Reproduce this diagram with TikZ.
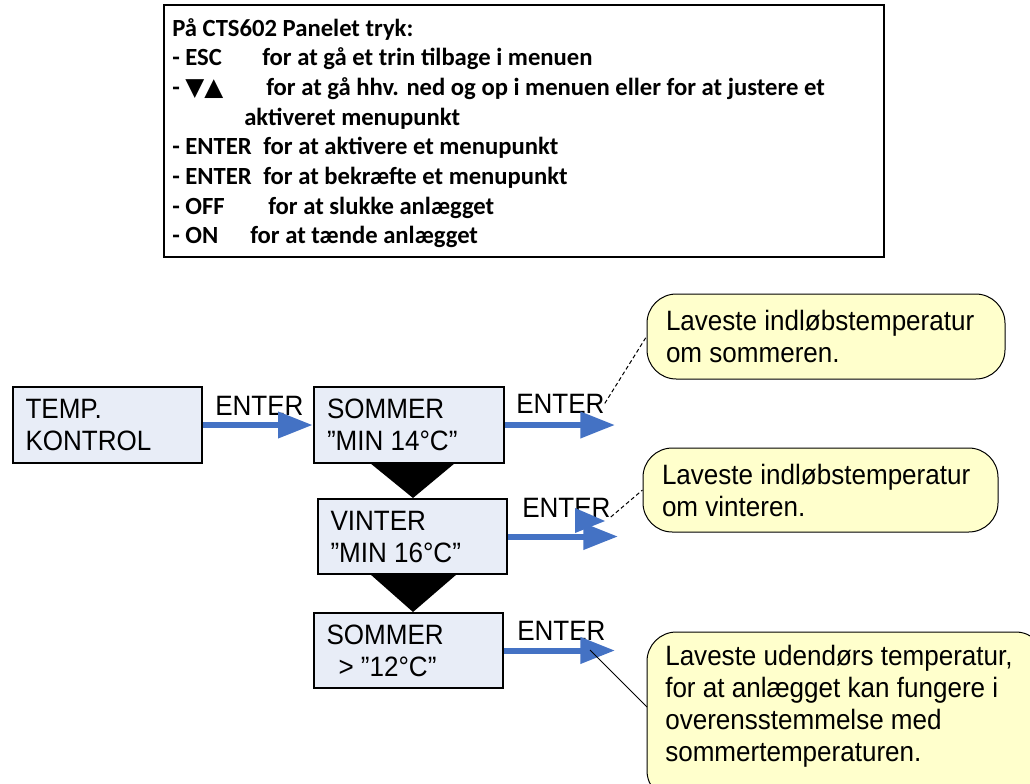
\documentclass[tikz,border=0pt]{standalone}
\usepackage{fontspec}
\usetikzlibrary{arrows.meta}
\newfontfamily\arialf{Liberation Sans}[FakeStretch=0.93]
\newfontfamily\calibf{Carlito}
\newfontfamily\dejavuf{DejaVu Sans}
\definecolor{boxfill}{HTML}{E8EDF7}
\definecolor{callfill}{HTML}{FFFFCC}
\definecolor{arrowblue}{HTML}{4472C4}
\begin{document}
\begin{tikzpicture}[x=0.75pt,y=-0.75pt,
  menubox/.style={draw=black, line width=2pt, fill=boxfill, inner sep=0pt,
    minimum width=141.75pt, minimum height=57pt, text width=123pt, align=flush left,
    font=\arialf\fontsize{21}{24}\selectfont},
  callout/.style={draw=black, line width=0.75pt, fill=callfill, rounded corners=22pt,
    inner sep=0pt, align=flush left, font=\arialf\fontsize{21}{24}\selectfont},
  lbl/.style={anchor=base west, inner sep=0pt, font=\arialf\fontsize{21}{24}\selectfont},
  paneltxt/.style={anchor=base west, inner sep=0pt, font=\calibf\bfseries\fontsize{18.5}{22}\selectfont},
  flow/.style={draw=arrowblue, line width=4.5pt, -{Triangle[length=26pt,width=19pt]}},
  dashln/.style={draw=black, line width=0.75pt, dash pattern=on 3pt off 2pt},
  solidln/.style={draw=black, line width=0.75pt}
]
\useasboundingbox (0,0) rectangle (1030,783);
\clip (0,0) rectangle (1030,783);

% top panel
\node[draw=black, line width=1.5pt, minimum width=540pt, minimum height=189pt, inner sep=0pt] (panel) at (524,131) {};
\node[paneltxt] (p0) at (172,36) {På CTS602 Panelet tryk:};
\node[paneltxt] (p1a) at (172,65.7) {- ESC};
\node[paneltxt] (p1b) at (262,65.7) {for at gå et trin tilbage i menuen};
\node[paneltxt] (p2a) at (172,95.4) {- {\dejavuf ▼▲}};
\node[paneltxt] (p2b) at (266,95.4) {for at gå hhv. ned og op i menuen eller for at justere et};
\node[paneltxt] (p3) at (244,125.1) {aktiveret menupunkt};
\node[paneltxt] (p4a) at (172,154.8) {- ENTER};
\node[paneltxt] (p4b) at (263,154.8) {for at aktivere et menupunkt};
\node[paneltxt] (p5a) at (172,184.5) {- ENTER};
\node[paneltxt] (p5b) at (263,184.5) {for at bekræfte et menupunkt};
\node[paneltxt] (p6a) at (172,214.2) {- OFF};
\node[paneltxt] (p6b) at (268,214.2) {for at slukke anlægget};
\node[paneltxt] (p7a) at (172,243.9) {- ON};
\node[paneltxt] (p7b) at (250,243.9) {for at tænde anlægget};

% menu boxes
\node[menubox] (b1) at (107.5,425) {TEMP.\\KONTROL};
\node[menubox, minimum width=142.5pt] (b2) at (409,425) {SOMMER\\”MIN 14°C”};
\node[menubox, minimum height=56.25pt] (b3) at (412.5,536.5) {VINTER\\”MIN 16°C”};
\node[menubox, minimum height=56.25pt] (b4) at (408.5,650.5) {SOMMER\\\hspace*{9pt}> ”12°C”};

% black down triangles
\fill[black] (370,463) -- (455,463) -- (413,498) -- cycle;
\fill[black] (370,574) -- (457,574) -- (413,612) -- cycle;

% ENTER labels
\node[lbl] (e1) at (215,415) {ENTER};
\node[lbl] (e2) at (516,413) {ENTER};
\node[lbl] (e3) at (522,517) {ENTER};
\node[lbl] (e4) at (517,640) {ENTER};

% arrows
\coordinate (t2) at (615,425);
\coordinate (t3) at (618,536.5);
\coordinate (t4) at (615,650.5);
\draw[flow] (b1.east) -- (b2.west);
\draw[flow] (b2.east) -- (t2);
\draw[flow] (b3.east) -- (t3);
\draw[flow] (b4.east) -- (t4);
\fill[arrowblue] (575,508) -- (575,533) -- (605,521) -- cycle;

% callouts
\node[callout, minimum width=268.5pt, minimum height=63.75pt, text width=240pt] (c1) at (826,336.5)
  {Laveste indløbstemperatur\\om sommeren.};
\node[callout, minimum width=266.25pt, minimum height=63pt, text width=237.75pt] (c2) at (820.5,490)
  {Laveste indløbstemperatur\\om vinteren.};
\node[callout, minimum width=298.5pt, minimum height=126pt] (c3) at (846,716) {};
\node[anchor=north west, inner sep=0pt, align=flush left, font=\arialf\fontsize{21}{24}\selectfont] (c3t) at (665,644.5)
  {Laveste udendørs temperatur,\\for at anlægget kan fungere i\\overensstemmelse med\\sommertemperaturen.};

% connectors to callouts
\coordinate (a4p) at (590,650);
\coordinate (c3in) at (647,707);
\draw[dashln] (e2.east) -- (c1.west);
\draw[dashln] (e3.base east) -- (c2.west);
\draw[solidln] (a4p) -- (c3in);
\end{tikzpicture}
\end{document}
